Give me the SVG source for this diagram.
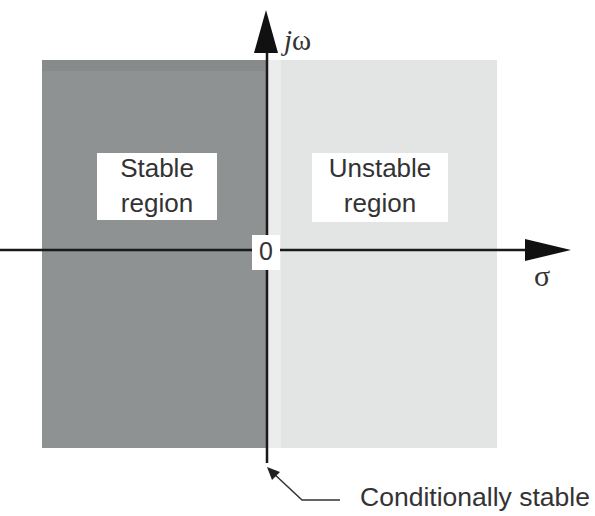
<svg xmlns="http://www.w3.org/2000/svg" width="595" height="516" viewBox="0 0 595 516">
<style>
.lbl{font-family:"Liberation Sans",Arial,sans-serif;font-size:26px;fill:#333;text-anchor:middle}
.axis{stroke:#1a1a1a;stroke-width:2.5;fill:none}
.head{fill:#111}
</style>
<rect width="595" height="516" fill="#ffffff"/>
<g id="regions">
<rect id="stable-area" x="42" y="60" width="224" height="388" fill="#8e9292"/>
<rect x="42" y="60" width="224" height="11" fill="#878b8b"/>
<rect id="unstable-area" x="268" y="60" width="229" height="388" fill="#e3e4e4"/>
<rect x="268" y="60" width="13" height="388" fill="#ececec"/>
</g>
<g id="connectors">
<line class="axis" x1="0" y1="250" x2="528" y2="250"/>
<polygon class="head" points="571,250 525,239 525,261"/>
<line class="axis" x1="267" y1="463" x2="267" y2="48"/>
<polygon class="head" points="266,10 254,53 278,53"/>
<polyline fill="none" stroke="#333" stroke-width="1.5" points="340,500 302,500 272,472"/>
<polygon fill="#222" points="267,467 280,472 272,480"/>
</g>
<g id="stable">
<rect x="97" y="153" width="120" height="67" fill="#ffffff"/>
<text class="lbl" x="157" y="177">Stable</text>
<text class="lbl" x="157" y="212">region</text>
</g>
<g id="unstable">
<rect x="312" y="153" width="136" height="69" fill="#ffffff"/>
<text class="lbl" x="380" y="177">Unstable</text>
<text class="lbl" x="380" y="212">region</text>
</g>
<g id="origin">
<rect x="252" y="235" width="28" height="35" fill="#ffffff"/>
<text class="lbl" x="266" y="260" style="font-size:25px">0</text>
</g>
<g id="jw-label">
<text x="284" y="50" style="font-family:'Liberation Serif','Times New Roman',serif;font-size:29px;fill:#333"><tspan font-style="italic">j</tspan>ω</text>
</g>
<g id="sigma-label">
<text x="542" y="286" style="font-family:'Liberation Serif','Times New Roman',serif;font-size:30px;fill:#333;text-anchor:middle">σ</text>
</g>
<g id="conditionally-stable">
<text class="lbl" x="475" y="506" style="font-size:26.5px">Conditionally stable</text>
</g>
</svg>
